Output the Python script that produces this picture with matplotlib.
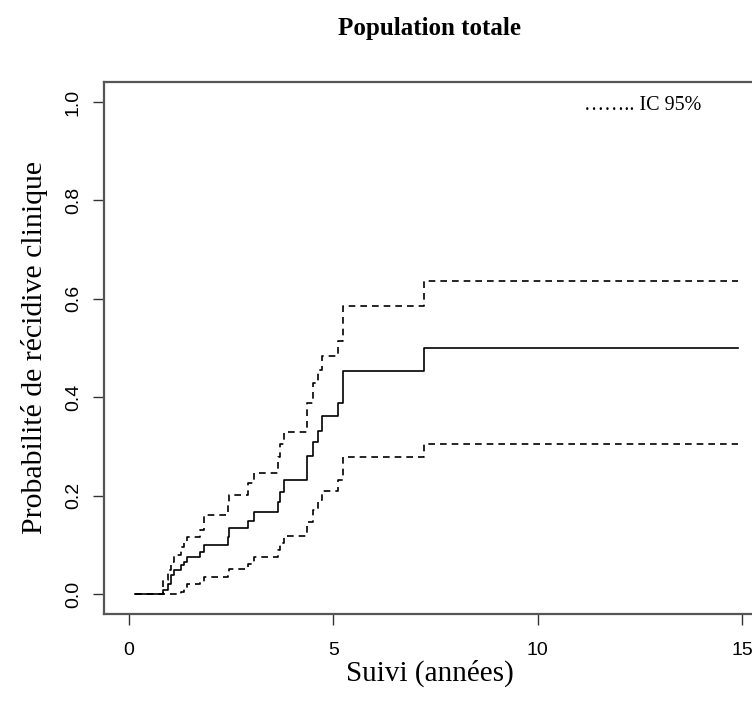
import matplotlib
matplotlib.use("Agg")
import matplotlib.pyplot as plt

# Kaplan-Meier style cumulative incidence
t_start = 0.15
t_end = 14.9
times = [0.84, 0.96, 1.02, 1.11, 1.26, 1.35, 1.43, 1.74, 1.84, 2.41, 2.45,
         2.92, 3.07, 3.64, 3.69, 3.79, 4.35, 4.51, 4.63, 4.73, 5.11, 5.24, 7.22]
estimate = [0.008, 0.020, 0.038, 0.049, 0.059, 0.066, 0.076, 0.086, 0.0996,
            0.1165, 0.1335, 0.149, 0.166, 0.186, 0.208, 0.232, 0.2805, 0.308,
            0.332, 0.362, 0.3875, 0.454, 0.500]
upper = [0.029, 0.049, 0.065, 0.079, 0.096, 0.105, 0.116, 0.130, 0.1606,
         0.185, 0.201, 0.226, 0.2466, 0.279, 0.304, 0.329, 0.389, 0.428,
         0.455, 0.484, 0.514, 0.585, 0.636]
lower = [0.0, 0.0, 0.0, 0.0, 0.005, 0.012, 0.020, 0.025, 0.035, 0.045, 0.050,
         0.060, 0.076, 0.090, 0.104, 0.118, 0.147, 0.171, 0.191, 0.210, 0.232,
         0.279, 0.305]

xticks = [0, 5, 10, 15]
yticks = [0.0, 0.2, 0.4, 0.6, 0.8, 1.0]
ytick_labels = ["0.0", "0.2", "0.4", "0.6", "0.8", "1.0"]


def steps(values):
    xs = [t_start] + times + [t_end]
    ys = [0.0] + values + [values[-1]]
    return xs, ys


W, H = 752, 704
fig = plt.figure(figsize=(W / 100, H / 100), dpi=100)
ax = fig.add_axes([104 / W, (H - 614) / H, (756 - 104) / W, (614 - 82) / H])

serif = ["Liberation Serif", "DejaVu Serif"]
sans = ["Liberation Sans", "DejaVu Sans"]

x, y = steps(estimate)
ax.step(x, y, where="post", color="black", lw=1.2)
x, y = steps(upper)
ax.step(x, y, where="post", color="black", lw=1.2, dashes=(4, 3))
x, y = steps(lower)
ax.step(x, y, where="post", color="black", lw=1.2, dashes=(4, 3))

ax.set_xlim(-0.612, 15.34)
ax.set_ylim(-0.0407, 1.0407)

ax.set_xticks(xticks)
ax.set_xticklabels([str(v) for v in xticks], fontfamily=sans, fontsize=14)
ax.set_yticks(yticks)
ax.set_yticklabels(ytick_labels, fontfamily=sans, fontsize=14, rotation=90,
                   va="center")
ax.tick_params(axis="both", direction="out", length=8, width=1.0,
               color="#333333")
ax.tick_params(axis="x", pad=12)
ax.tick_params(axis="y", pad=8)

for s in ax.spines.values():
    s.set_color("#555555")
    s.set_linewidth(1.6)

ax.set_xlabel("Suivi (années)", fontfamily=serif, fontsize=21, labelpad=1)
ax.set_ylabel("Probabilité de récidive clinique", fontfamily=serif,
              fontsize=21.5, labelpad=12)

fig.text(430 / W, 1 - 28 / H, "Population totale", fontfamily=serif,
         fontsize=18, fontweight="bold", ha="center", va="center")
fig.text(643 / W, 1 - 106 / H, "\u2026\u2026.. IC 95%", fontfamily=serif,
         fontsize=14.5, ha="center", va="center")

fig.savefig("out.png", dpi=100)
